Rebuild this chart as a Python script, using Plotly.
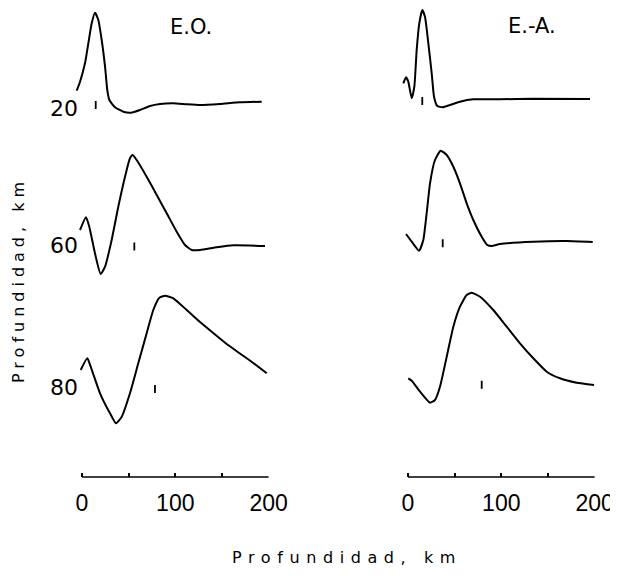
import plotly.graph_objects as go

# ---------------- data ----------------
depth_labels = ["20", "60", "80"]
depth_offsets = [369, 232, 90]          # baseline of each trace (plot units)
panel_titles = ["E.O.", "E.-A."]
axis_title = "Profundidad, km"
x_tickvals = [0, 50, 100, 150, 200]
x_ticktext = ["0", "", "100", "", "200"]

# E.O. panel, depth 20 km
eo20_x = [-5.7, -2.1, 3.2, 6.8, 10.4, 13.9, 17.5, 21.1, 24.7, 27.1, 29.3, 35.4, 44.3, 52.5,
          62.2, 72.9, 83.6, 97.9, 112.2, 126.5, 147.9, 169.3, 192.6]
eo20_y = [17.3, 26.3, 44.7, 64.7, 84.7, 95.3, 88, 68, 41.3, 18, 8, 0.7, -3.7, -4.7,
          -2, 2, 4, 4.7, 3.7, 3, 4, 5.7, 6.3]
# E.O. panel, depth 60 km
eo60_x = [-2.1, 4.3, 7.8, 13.9, 20.0, 24.7, 31.8, 38.9, 46.1, 51.4, 54.3, 58.6, 69.3, 80.1,
          90.8, 101.5, 110.4, 117.6, 126.5, 144.4, 162.2, 196.1]
eo60_y = [15, 27.7, 18.3, -8.3, -29, -21.7, 5, 38.3, 68.3, 86.7, 90, 85, 68.3, 50,
          31.7, 13.3, 0, -5, -5, -2.3, -0.3, -1]
# E.O. panel, depth 80 km
eo80_x = [-1.4, 5.7, 9.3, 19.3, 30.0, 36.4, 42.6, 51.4, 60.3, 69.3, 76.4, 82.9, 89.0, 97.9,
          112.2, 126.5, 140.7, 155.1, 169.3, 183.6, 198.0]
eo80_y = [17, 28.7, 20.3, -6.3, -26.3, -36.3, -29.7, -6.3, 23.7, 53.7, 77, 89.3, 91.3, 88.7,
          77, 65, 54, 43, 33.5, 24, 13.7]

# E.-A. panel, depth 20 km
ea20_x = [-5.0, -2.1, 0.3, 4.0, 6.8, 9.3, 12.1, 15.3, 18.2, 21.8, 25.4, 27.9, 31.4, 37.2,
          45.0, 55.7, 70.0, 98.6, 134.3, 195.1]
ea20_y = [24.7, 30.7, 26.3, 9.7, 21.3, 58, 84.7, 98, 91.3, 64.7, 34.7, 11.3, 2, 0.7,
          3, 6.3, 8.7, 8.7, 9.3, 9]
# E.-A. panel, depth 60 km
ea60_x = [-2.1, 4.0, 11.8, 16.4, 20.0, 23.6, 28.9, 35.0, 41.5, 48.6, 55.7, 62.9, 70.0, 79.0,
          85.0, 89.7, 98.6, 134.3, 170.1, 198.0]
ea60_y = [11, 3.3, -5.7, 5, 31.7, 61.7, 85, 94.3, 90, 78.3, 61.7, 41.7, 25, 8.3,
          0, -1, 1, 3.3, 4, 3]
# E.-A. panel, depth 80 km
ea80_x = [0.3, 4.0, 12.9, 23.6, 28.9, 34.3, 41.5, 48.6, 55.7, 62.9, 68.3, 77.2, 91.4, 105.8,
          120.0, 134.3, 148.7, 162.9, 180.8, 199.4]
ea80_y = [8.7, 6.3, -4.7, -15.7, -13, 0.3, 30.3, 60.3, 80.3, 92, 94.3, 90.3, 77, 60.3,
          43.7, 28.7, 15.3, 8.7, 4.3, 2]

# small vertical marks on each trace (position km, centre level)
eo_mark_x = [14.7, 56.1, 78.2]
eo_mark_y = [3, -1.5, -2]
ea_mark_x = [15.3, 37.2, 79.0]
ea_mark_y = [7, 1.7, 2.2]
mark_half = 4

# ---------------- figure ----------------
OFF = 8                       # page body margin in the browser
W, H = 618 - OFF, 576 - OFF
PX_PER_KM = 0.933
XMIN, XMAX = -10, 201
left_zero_px, right_zero_px = 82 - OFF, 408 - OFF
axis_px = 477 - OFF
YTOP = axis_px                # 1 plot unit = 1 pixel

def dom(zero_px):
    return [(zero_px + XMIN * PX_PER_KM) / W, (zero_px + XMAX * PX_PER_KM) / W]

def px(x, y):
    return (x - OFF) / W, 1 - (y - OFF) / H

fig = go.Figure()
line_style = dict(color="black", width=2, shape="spline", smoothing=0.5)

panels = [
    ("x", "y", [(eo20_x, eo20_y), (eo60_x, eo60_y), (eo80_x, eo80_y)], eo_mark_x, eo_mark_y),
    ("x2", "y2", [(ea20_x, ea20_y), (ea60_x, ea60_y), (ea80_x, ea80_y)], ea_mark_x, ea_mark_y),
]
for xa, ya, curves, mx, my in panels:
    for (cx, cy), off in zip(curves, depth_offsets):
        fig.add_trace(go.Scatter(x=cx, y=[v + off for v in cy], mode="lines",
                                 line=line_style, xaxis=xa, yaxis=ya,
                                 showlegend=False, hoverinfo="skip"))
    mxs, mys = [], []
    for px_, py_, off in zip(mx, my, depth_offsets):
        mxs += [px_, px_, None]
        mys += [off + py_ - mark_half, off + py_ + mark_half, None]
    fig.add_trace(go.Scatter(x=mxs, y=mys, mode="lines",
                             line=dict(color="black", width=1.8),
                             xaxis=xa, yaxis=ya, showlegend=False, hoverinfo="skip"))

ydom = [(H - axis_px) / H, 1]
tickfont = dict(family="Liberation Sans, Arial, sans-serif", size=23, color="black")
xcommon = dict(range=[XMIN, XMAX], showline=False, showgrid=False, zeroline=False,
               ticks="inside", ticklen=4, tickwidth=1.5, tickcolor="black",
               tickvals=x_tickvals, ticktext=x_ticktext, tickfont=tickfont,
               ticklabelstandoff=10, automargin=False, fixedrange=True)
fig.update_layout(
    width=W, height=H, template="none",
    margin=dict(l=0, r=0, t=0, b=0, pad=0),
    paper_bgcolor="white", plot_bgcolor="white",
    xaxis=dict(domain=dom(left_zero_px), anchor="y", **xcommon),
    xaxis2=dict(domain=dom(right_zero_px), anchor="y2", **xcommon),
    yaxis=dict(domain=ydom, range=[0, YTOP], anchor="free", position=left_zero_px / W,
               showline=False, showgrid=False, zeroline=False, ticks="",
               tickvals=depth_offsets, ticktext=depth_labels,
               tickfont=dict(family="DejaVu Sans", size=22, color="black"),
               ticklabelstandoff=4, automargin=False, fixedrange=True),
    yaxis2=dict(domain=ydom, range=[0, YTOP], anchor="x2",
                showline=False, showgrid=False, zeroline=False, ticks="",
                showticklabels=False, automargin=False, fixedrange=True),
    showlegend=False,
)

for xr, yr in [("x", "y domain"), ("x2", "y2 domain")]:
    fig.add_shape(type="line", xref=xr, yref=yr, x0=0, x1=200, y0=0, y1=0,
                  line=dict(color="black", width=1.5))

title_font = dict(family="DejaVu Sans", size=21, color="black")
for t, (cx, cy) in zip(panel_titles, [(191, 27), (532, 26)]):
    ax_, ay_ = px(cx, cy)
    fig.add_annotation(text=t, x=ax_, y=ay_, xref="paper", yref="paper",
                       showarrow=False, font=title_font, xanchor="center", yanchor="middle")

lab_font = dict(family="DejaVu Sans", size=16, color="black")
ax_, ay_ = px(347, 557)
fig.add_annotation(text='<span style="letter-spacing:6.6px">' + axis_title + '</span>',
                   x=ax_, y=ay_, xref="paper", yref="paper",
                   showarrow=False, font=lab_font, xanchor="center", yanchor="middle")
ax_, ay_ = px(18, 280)
fig.add_annotation(text='<span style="letter-spacing:5px">' + axis_title + '</span>',
                   x=ax_, y=ay_, xref="paper", yref="paper",
                   showarrow=False, font=lab_font, textangle=-90,
                   xanchor="center", yanchor="middle")

fig.write_html(
    "out.html",
    post_script="document.documentElement.style.overflow='hidden';"
                "document.body.style.overflow='hidden';",
)
